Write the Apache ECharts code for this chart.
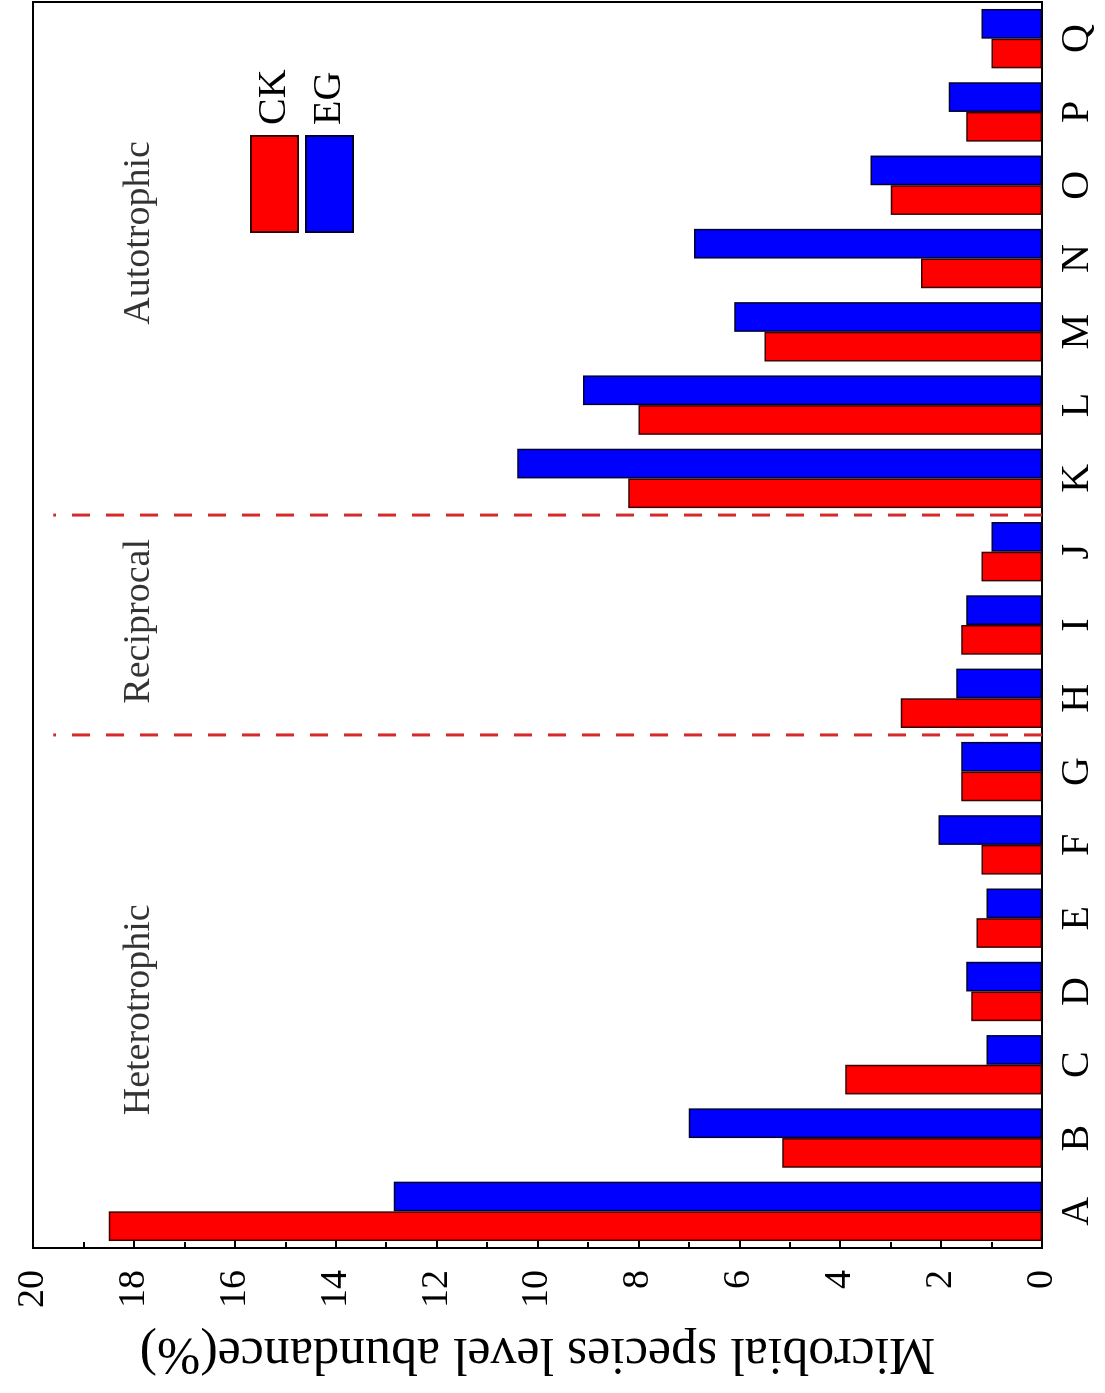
<!DOCTYPE html>
<html>
<head>
<meta charset="utf-8">
<title>Microbial species level abundance</title>
<script src="https://cdn.jsdelivr.net/npm/echarts@6.0.0/dist/echarts.min.js"></script>
<style>
  html, body { margin: 0; padding: 0; overflow: hidden; background: #fff; width: 1105px; height: 1393px; }
  /* chart is drawn upright and then turned a quarter turn left, like the scanned figure */
  #chart {
    position: absolute; left: 0; top: 0;
    width: 1393px; height: 1105px;
    transform-origin: 0 0;
    transform: translateY(1393px) rotate(-90deg);
  }
</style>
</head>
<body>
<div id="chart"></div>
<script>
  // categories on the x axis
  const categories = ['A', 'B', 'C', 'D', 'E', 'F', 'G', 'H', 'I', 'J', 'K', 'L', 'M', 'N', 'O', 'P', 'Q']
  // abundance (%) per category
  const ckValues = [18.5, 5.15, 3.9, 1.4, 1.3, 1.2, 1.6, 2.8, 1.6, 1.2, 8.2, 8.0, 5.5, 2.4, 3.0, 1.5, 1.0]
  const egValues = [12.85, 7.0, 1.1, 1.5, 1.1, 2.05, 1.6, 1.7, 1.5, 1.0, 10.4, 9.1, 6.1, 6.9, 3.4, 1.85, 1.2]
  // value axis range
  const valueMin = 0
  const valueMax = 20
  const valueStep = 2
  // dashed dividers sit on category boundaries (index of first category on the right side)
  const dividers = [7, 10]
  const dividerTop = 19.6
  // group names and where they sit (in category units / value units)
  const groupNames = ['Heterotrophic', 'Reciprocal', 'Autotrophic']
  const groupPos = [3.25, 8.55, 13.85]
  const groupLevel = 17.9

  const serif = '"Liberation Serif", "Times New Roman", serif'

  const chart = echarts.init(document.getElementById('chart'))

  const dividerSeries = dividers.map((d) => ({
    type: 'line',
    xAxisIndex: 1,
    data: [[d, valueMin], [d, dividerTop]],
    symbol: 'none',
    silent: true,
    lineStyle: { color: '#d42a2a', width: 3, type: [18, 16] },
    z: 3
  }))

  chart.setOption({
    animation: false,
    backgroundColor: '#fff',
    grid: {
      left: 145,
      right: 2,
      top: 33,
      bottom: 63,
      show: true,
      borderColor: '#000',
      borderWidth: 2
    },
    legend: {
      orient: 'vertical',
      left: 1160,
      top: 250,
      padding: 0,
      icon: 'rect',
      itemWidth: 96,
      itemHeight: 47,
      itemGap: 6,
      selectedMode: false,
      data: ['CK', 'EG'],
      textStyle: { fontFamily: serif, fontSize: 40, color: '#000', padding: [0, 0, 0, 6] }
    },
    xAxis: [
      {
        type: 'category',
        data: categories,
        axisLine: { lineStyle: { color: '#000', width: 2 } },
        axisTick: { inside: true, length: 8, lineStyle: { color: '#000', width: 2 } },
        axisLabel: { fontFamily: serif, fontSize: 40, color: '#000', margin: 15 },
        splitLine: { show: false }
      },
      {
        // hidden helper axis for the dividers and group names
        type: 'value',
        min: 0,
        max: categories.length,
        show: false
      }
    ],
    yAxis: {
      type: 'value',
      min: valueMin,
      max: valueMax,
      interval: valueStep,
      name: 'Microbial species level abundance(%)',
      nameLocation: 'middle',
      nameGap: 79,
      nameTextStyle: { fontFamily: serif, fontSize: 52, color: '#000' },
      axisLine: { show: true, lineStyle: { color: '#000', width: 2 } },
      axisTick: { inside: true, length: 10, lineStyle: { color: '#000', width: 2 } },
      minorTick: { show: true, splitNumber: 2, length: 6, lineStyle: { color: '#000', width: 2 } },
      axisLabel: { fontFamily: serif, fontSize: 38, color: '#000', margin: 22 },
      splitLine: { show: false }
    },
    series: [
      {
        name: 'CK',
        type: 'bar',
        data: ckValues,
        barGap: '0%',
        barCategoryGap: '19%',
        itemStyle: { color: '#ff0000', borderColor: '#3a0000', borderWidth: 1.5 }
      },
      {
        name: 'EG',
        type: 'bar',
        data: egValues,
        itemStyle: { color: '#0000ff', borderColor: '#00002e', borderWidth: 1.5 }
      },
      ...dividerSeries,
      {
        type: 'scatter',
        xAxisIndex: 1,
        symbolSize: 0,
        silent: true,
        data: groupNames.map((n, i) => [groupPos[i], groupLevel, n]),
        label: {
          show: true,
          position: 'inside',
          formatter: (p) => p.data[2],
          fontFamily: serif,
          fontSize: 38,
          color: '#000'
        }
      }
    ]
  })
</script>
</body>
</html>
